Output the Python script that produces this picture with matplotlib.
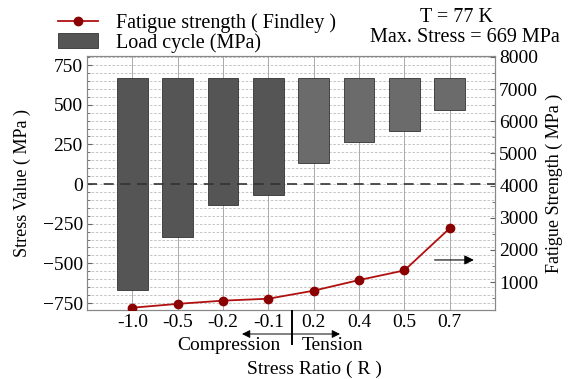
import numpy as np
import matplotlib.pyplot as plt
from matplotlib.ticker import MultipleLocator

plt.rcParams['font.family'] = ['Liberation Serif', 'DejaVu Serif']

# --- DATA ---
ratios = ["-1.0", "-0.5", "-0.2", "-0.1", "0.2", "0.4", "0.5", "0.7"]
r_values = [-1.0, -0.5, -0.2, -0.1, 0.2, 0.4, 0.5, 0.7]
max_stress = 669
fatigue = [200, 320, 420, 480, 730, 1060, 1360, 2670]
bar_colors = ["#555555"] * 4 + ["#6b6b6b"] * 4

x = np.arange(len(ratios))
min_stress = [r * max_stress for r in r_values]
heights = [max_stress - m for m in min_stress]

fig = plt.figure(figsize=(5.8, 3.79), dpi=100)
ax = fig.add_axes([87 / 580, 1 - 310 / 379, 408 / 580, 254 / 379])
ax2 = ax.twinx()

# grid
for y in np.arange(-750, 801, 50):
    ax.axhline(y, color="#bbbbbb", lw=0.6, ls=(0, (3, 2)), zorder=0)
for xi in x:
    ax.axvline(xi, color="#aaaaaa", lw=0.7, zorder=0)

bars = ax.bar(x, heights, bottom=min_stress, width=0.68, color=bar_colors,
              edgecolor="#333333", linewidth=0.6, zorder=2)
ax.axhline(0, color="#333333", lw=1.2, ls=(0, (6, 4)), zorder=3)

line, = ax2.plot(x, fatigue, color="#b01010", lw=1.3, marker="o", ms=6,
                 mfc="#8b0000", mec="#8b0000", zorder=4)

ax.set_xlim(-1, 8)
ax.set_ylim(-794, 807)
ax2.set_ylim(129, 8031)
ax.set_xticks(x)
ax.set_xticklabels(ratios, fontsize=14)
ax.set_yticks([-750, -500, -250, 0, 250, 500, 750])
ax.set_yticklabels(["\u2212750", "\u2212500", "\u2212250", "0", "250", "500", "750"], fontsize=14)
ax.yaxis.set_minor_locator(MultipleLocator(50))
ax2.set_yticks(range(1000, 8001, 1000))
ax2.yaxis.set_minor_locator(MultipleLocator(500))
ax2.tick_params(axis="y", labelsize=14, direction="in", which="both", color="#666666", pad=3)
ax.tick_params(axis="y", direction="in", which="both", color="#666666", pad=3)
ax.tick_params(axis="x", length=0, pad=3)

for a in (ax, ax2):
    for s in a.spines.values():
        s.set_color("#888888")

ax.set_ylabel("Stress Value ( MPa )", fontsize=13, labelpad=8)
ax2.set_ylabel("Fatigue Strength ( MPa )", fontsize=13, labelpad=5)

# arrow pointing to right axis
ax.annotate("", xy=(0.955, 0.197), xytext=(0.845, 0.197), xycoords="axes fraction",
            arrowprops=dict(arrowstyle="-|>", color="black", lw=0.8, mutation_scale=14))

# compression / tension marker under axis
fig.add_artist(plt.Line2D([292 / 580, 292 / 580], [1 - 311 / 379, 1 - 344 / 379],
                          color="black", lw=1.4))
ax.annotate("", xy=(242 / 580, 1 - 334 / 379), xytext=(340 / 580, 1 - 334 / 379),
            xycoords="figure fraction",
            arrowprops=dict(arrowstyle="<|-|>", color="black", lw=0.7, mutation_scale=12,
                            shrinkA=0, shrinkB=0))
fig.text(229 / 580, 1 - 346 / 379, "Compression", fontsize=14, ha="center", va="center")
fig.text(332 / 580, 1 - 346 / 379, "Tension", fontsize=14, ha="center", va="center")
fig.text(314 / 580, 1 - 369 / 379, "Stress Ratio ( R )", fontsize=14, ha="center", va="center")

# legend and notes
fig.legend([line, bars], ["Fatigue strength ( Findley )", "Load cycle (MPa)"], loc="upper left",
           bbox_to_anchor=(50 / 580, 1 - 5 / 379), fontsize=14.5, frameon=False,
           handlelength=2.0, borderaxespad=0, labelspacing=0.0, handletextpad=0.9)
fig.text(457 / 580, 1 - 17 / 379, "T = 77 K", fontsize=14.5, ha="center", va="center")
fig.text(465 / 580, 1 - 37 / 379, "Max. Stress = 669 MPa", fontsize=14.5, ha="center", va="center")

fig.savefig("out.png", dpi=100)
